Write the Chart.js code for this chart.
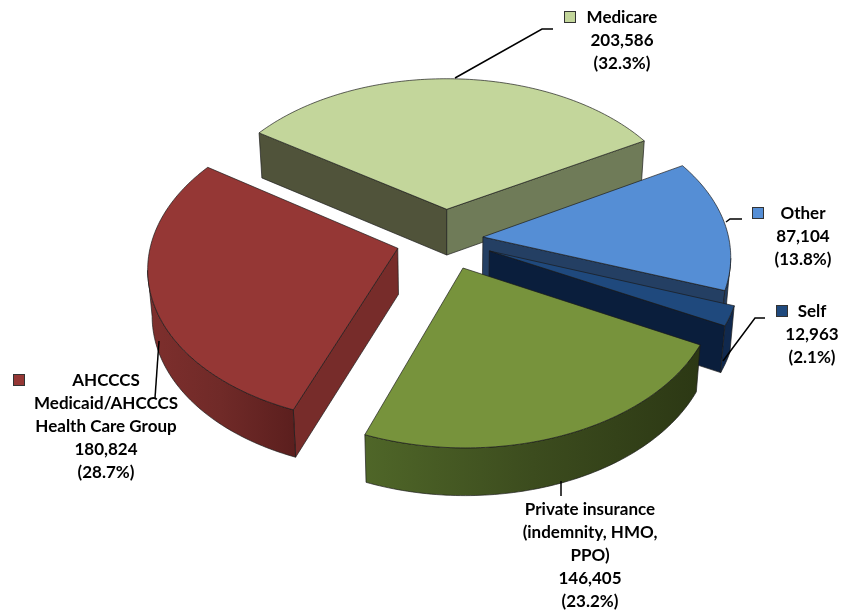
<!DOCTYPE html>
<html>
<head>
<meta charset="utf-8">
<title>Payer mix</title>
<script src="https://cdn.jsdelivr.net/npm/chart.js@4"></script>
<style>
  html, body { margin: 0; padding: 0; background: #fff; }
  canvas { display: block; }
</style>
</head>
<body>
<canvas id="pieChart" width="858" height="614"></canvas>
<script>
// chart values
const categories = ['Medicare', 'Other', 'Self', 'Private insurance (indemnity, HMO, PPO)', 'AHCCCS Medicaid/AHCCCS Health Care Group'];
const labelLines = [['Medicare'], ['Other'], ['Self'], ['Private insurance', '(indemnity, HMO,', 'PPO)'], ['AHCCCS', 'Medicaid/AHCCCS', 'Health Care Group']];
const patients = [203586, 87104, 12963, 146405, 180824];

// colours per slice: top, the two radial walls, outer wall stops
const topColors = ['#C3D69B', '#558ED5', '#1F497D', '#77933C', '#953735'];
const startWallColors = ['#50533A', '#243F63', '#0A1E3C', '#3A4A1D', '#772C2A'];
const endWallColors = ['#6F7B58', '#243F63', '#0A1E3C', '#3A4A1D', '#772C2A'];
const rimColors = [['#5A6344', '#5A6344'], ['#243F63', '#1E3556'], ['#10294E', '#10294E'], ['#4F6628', '#3C4C1E', '#2C3814'], ['#7E2F2D', '#702A28', '#5C1F1E']];
const explode = [40, 31, 39, 40, 40];

// label boxes: centre of the text, first baseline middle, legend key
const labelPos = [
  {x: 622, y: 18, key: [564, 11]},
  {x: 803, y: 214, key: [752, 207]},
  {x: 812, y: 312, key: [776, 305]},
  {x: 590, y: 510},
  {x: 106, y: 381, key: [13, 374]}
];
const leaders = [
  [[455, 78], [542, 29], [553, 29]],
  [[726, 222], [730, 219], [742, 219]],
  [[723, 361], [755, 318], [765, 318]],
  [[561, 481], [561, 496]],
  [[159, 341], [155, 398]]
];

// camera used to lay the flat pie down
const view = {cx: 445, cy: 239, sx: 246, sy: 152, tilt: 0.115, depth: 46, shrink: 0.985};
const drawOrder = [0, 1, 2, 4, 3];
const lineHeight = 23;

function project(x, y, low) {
  const s = 1 / (1 - view.tilt * y);
  let px = view.cx + view.sx * x * s;
  let py = view.cy + view.sy * y * s;
  if (low) {
    px = view.cx + (px - view.cx) * view.shrink;
    py += view.depth * Math.pow(s, 0.25);
  }
  return {x: px, y: py};
}

function poly(ctx, pts, fill) {
  ctx.beginPath();
  pts.forEach((p, i) => i ? ctx.lineTo(p.x, p.y) : ctx.moveTo(p.x, p.y));
  ctx.closePath();
  ctx.fillStyle = fill;
  ctx.fill();
  ctx.stroke();
}

function wall(ctx, a, b, fill) {
  // only the faces turned to the viewer
  if (b.top.x >= a.top.x) return;
  poly(ctx, [a.top, b.top, b.low, a.low], fill);
}

function drawSlice(ctx, arc, i) {
  const start = arc.startAngle, end = arc.endAngle;
  const mid = (start + end) / 2;
  const e = arc.options.offset / arc.outerRadius;
  const ox = Math.cos(mid) * e, oy = Math.sin(mid) * e;

  const apex = {top: project(ox, oy), low: project(ox, oy, true)};
  const rim = [];
  const n = Math.max(4, Math.round((end - start) * 180 / Math.PI));
  for (let k = 0; k <= n; k++) {
    const t = start + (end - start) * k / n;
    const x = ox + Math.cos(t), y = oy + Math.sin(t);
    rim.push({top: project(x, y), low: project(x, y, true)});
  }

  ctx.lineWidth = 0.8;
  ctx.lineJoin = 'round';
  ctx.strokeStyle = 'rgba(25,25,25,0.85)';

  wall(ctx, apex, rim[0], startWallColors[i]);
  wall(ctx, rim[n], apex, endWallColors[i]);

  // outer wall, the stretch where the rim runs right to left
  let first = -1, last = -1;
  for (let k = 0; k < n; k++) {
    if (rim[k + 1].top.x < rim[k].top.x) {
      if (first < 0) first = k;
      last = k + 1;
    }
  }
  if (first >= 0) {
    const part = rim.slice(first, last + 1);
    const grad = ctx.createLinearGradient(part[0].top.x, 0, part[part.length - 1].top.x, 0);
    const stops = rimColors[i].slice().reverse();
    stops.forEach((c, s) => grad.addColorStop(s / (stops.length - 1), c));
    const pts = part.map(p => p.top).concat(part.map(p => p.low).reverse());
    poly(ctx, pts, grad);
  }

  poly(ctx, [apex.top].concat(rim.map(p => p.top)), topColors[i]);
}

const pie3d = {
  id: 'pie3d',
  beforeDatasetDraw(chart) {
    const ctx = chart.ctx;
    const arcs = chart.getDatasetMeta(0).data;
    ctx.save();
    drawOrder.forEach(i => drawSlice(ctx, arcs[i], i));
    ctx.restore();
    return false;
  }
};

const dataLabels = {
  id: 'dataLabels',
  afterDraw(chart) {
    const ctx = chart.ctx;
    const total = patients.reduce((a, b) => a + b, 0);
    ctx.save();
    ctx.strokeStyle = '#000';
    ctx.lineWidth = 1.5;
    leaders.forEach(l => {
      ctx.beginPath();
      l.forEach((p, i) => i ? ctx.lineTo(p[0], p[1]) : ctx.moveTo(p[0], p[1]));
      ctx.stroke();
    });
    ctx.font = 'bold 17px Lato';
    ctx.textAlign = 'center';
    ctx.textBaseline = 'middle';
    patients.forEach((v, i) => {
      const pos = labelPos[i];
      const lines = labelLines[i].concat([v.toLocaleString('en-US'), '(' + (v / total * 100).toFixed(1) + '%)']);
      ctx.fillStyle = '#000';
      lines.forEach((t, k) => ctx.fillText(t, pos.x, pos.y + k * lineHeight));
      if (pos.key) {
        ctx.fillStyle = topColors[i];
        ctx.strokeStyle = '#333';
        ctx.lineWidth = 1;
        ctx.fillRect(pos.key[0], pos.key[1], 11, 11);
        ctx.strokeRect(pos.key[0] + 0.5, pos.key[1] + 0.5, 11, 11);
      }
    });
    ctx.restore();
  }
};

new Chart(document.getElementById('pieChart').getContext('2d'), {
  type: 'pie',
  data: {
    labels: categories,
    datasets: [{
      data: patients,
      backgroundColor: topColors,
      offset: explode,
      borderWidth: 0
    }]
  },
  options: {
    responsive: false,
    animation: false,
    rotation: -56,
    radius: 200,
    plugins: {legend: {display: false}, tooltip: {enabled: false}}
  },
  plugins: [pie3d, dataLabels]
});
</script>
</body>
</html>
